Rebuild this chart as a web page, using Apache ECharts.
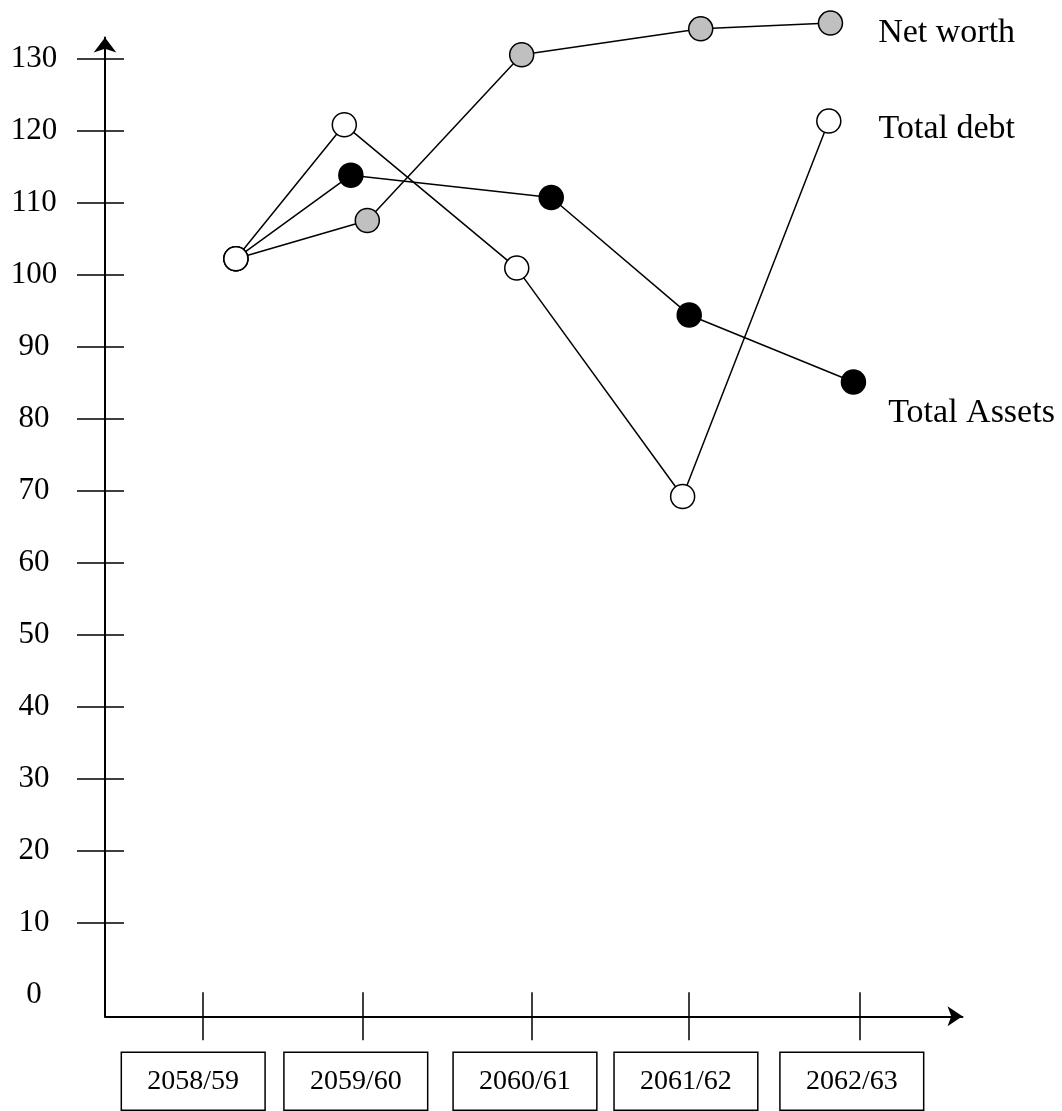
<!DOCTYPE html>
<html>
<head>
<meta charset="utf-8">
<script src="https://cdn.jsdelivr.net/npm/echarts@6/dist/echarts.min.js"></script>
<style>
html,body{margin:0;padding:0;background:#fff;}
#chart{width:1062px;height:1111px;}
</style>
</head>
<body>
<div id="chart"></div>
<script>
// Categories (x-axis boxes)
const categories = ['2058/59', '2059/60', '2060/61', '2061/62', '2062/63'];
// Tick positions of the categories along the x axis (category units, as drawn)
const tickPositions = [0, 0.97, 2.0, 2.96, 4.0];
// Centres of the boxed labels (category units, as drawn)
const labelPositions = [-0.06, 0.93, 1.96, 2.94, 3.95];
// Y tick labels
const yTickLabels = [0, 10, 20, 30, 40, 50, 60, 70, 80, 90, 100, 110, 120, 130];
const yTickMarks = [10, 20, 30, 40, 50, 60, 70, 80, 90, 100, 110, 120, 130];

// Series: x positions (category units, as drawn) and values
const netWorthX = [0.2, 1.0, 1.94, 3.03, 3.82];
const netWorth = [102.2, 107.5, 130.5, 134.1, 134.9];
const totalAssetsX = [0.2, 0.9, 2.12, 2.96, 3.96];
const totalAssets = [102.2, 113.8, 110.7, 94.4, 85.1];
const totalDebtX = [0.2, 0.86, 1.91, 2.92, 3.81];
const totalDebt = [102.2, 120.8, 100.9, 69.2, 121.3];

const FONT = "'Liberation Serif', 'Times New Roman', serif";

function pairs(xs, ys, labelOpt) {
  return ys.map((v, i) => {
    const item = { value: [xs[i], v] };
    if (i === ys.length - 1) item.label = labelOpt;
    return item;
  });
}

function nearestIndex(arr, v) {
  let best = 0, d = Infinity;
  arr.forEach((a, i) => { if (Math.abs(a - v) < d) { d = Math.abs(a - v); best = i; } });
  return best;
}

const chart = echarts.init(document.getElementById('chart'), null, { renderer: 'canvas' });

const lineStyle = { color: '#000', width: 1.5 };
function endLabel(name, off) {
  return {
    show: true, position: 'right', distance: 0, offset: off,
    formatter: name, color: '#000', fontFamily: FONT, fontSize: 34, align: 'left'
  };
}

function makeSeries(name, xs, ys, fill, off) {
  return {
    type: 'line', name: name,
    data: pairs(xs, ys, endLabel(name, off)),
    symbol: 'circle', symbolSize: 24,
    clip: false,
    lineStyle: lineStyle,
    itemStyle: { color: fill, borderColor: '#000', borderWidth: 1.5 },
    label: { show: false },
    emphasis: { disabled: true },
    silent: true,
    animation: false
  };
}

const yMin = -2.92, yMax = 132.9;
const xMin = -0.597, xMax = 4.624;

chart.setOption({
  backgroundColor: '#fff',
  animation: false,
  grid: { left: 105, right: 99.5, top: 37.5, bottom: 84, containLabel: false },
  xAxis: [
    {
      type: 'value', min: xMin, max: xMax, position: 'bottom',
      axisLine: { show: true, onZero: false, symbol: ['none', 'arrow'], symbolSize: [15, 15], lineStyle: { color: '#000', width: 2 } },
      axisTick: { show: true, inside: false, length: 24, customValues: tickPositions, lineStyle: { color: '#000', width: 1.5 } },
      axisLabel: {
        show: true, customValues: labelPositions, margin: 36, verticalAlign: 'top',
        formatter: (v) => categories[nearestIndex(labelPositions, v)],
        color: '#000', fontFamily: FONT, fontSize: 28, lineHeight: 28,
        borderColor: '#000', borderWidth: 1.5, padding: [15, 26, 15, 26]
      },
      splitLine: { show: false }
    },
    {
      type: 'value', min: xMin, max: xMax, position: 'bottom',
      axisLine: { show: false, onZero: false },
      axisTick: { show: true, inside: true, length: 24, customValues: tickPositions, lineStyle: { color: '#000', width: 1.5 } },
      axisLabel: { show: false },
      splitLine: { show: false }
    }
  ],
  yAxis: [
    {
      type: 'value', min: yMin, max: yMax, position: 'left',
      axisLine: { show: true, onZero: false, symbol: ['none', 'arrow'], symbolSize: [17, 15], lineStyle: { color: '#000', width: 2 } },
      axisTick: { show: true, inside: false, length: 28, customValues: yTickMarks, lineStyle: { color: '#000', width: 1.5 } },
      axisLabel: {
        show: true, customValues: yTickLabels, margin: 71, align: 'center',
        padding: [14, 0, 0, 0],
        color: '#000', fontFamily: FONT, fontSize: 31
      },
      splitLine: { show: false }
    },
    {
      type: 'value', min: yMin, max: yMax, position: 'left',
      axisLine: { show: false, onZero: false },
      axisTick: { show: true, inside: true, length: 19, customValues: yTickMarks, lineStyle: { color: '#000', width: 1.5 } },
      axisLabel: { show: false },
      splitLine: { show: false }
    }
  ],
  series: [
    makeSeries('Net worth', netWorthX, netWorth, '#c0c0c0', [35, 10]),
    makeSeries('Total Assets', totalAssetsX, totalAssets, '#000000', [22, 31]),
    makeSeries('Total debt', totalDebtX, totalDebt, '#ffffff', [37, 8])
  ]
});
</script>
</body>
</html>
